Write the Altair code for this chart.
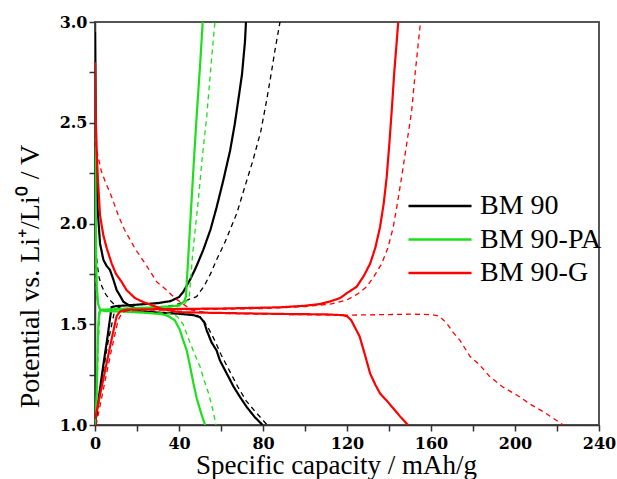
import altair as alt
import pandas as pd

samples = ["BM 90", "BM 90-PA", "BM 90-G"]
colors = ["#000000", "#1be01b", "#ff0000"]

# ---- BM 90 (black) ----
bm90_dis_solid_x = [0, 0.3, 0.6, 1.2, 2.4, 4, 5.5, 7.1, 8.8, 10.3, 12, 13.5, 16, 18.2, 22, 30, 40, 47, 50, 52, 53.2, 55.5, 57.9, 59.5, 63, 66, 69, 72.2, 76, 79.8]
bm90_dis_solid_y = [2.95, 2.6, 2.3, 2.08, 1.9, 1.82, 1.79, 1.77, 1.72, 1.67, 1.64, 1.612, 1.595, 1.584, 1.565, 1.558, 1.552, 1.545, 1.535, 1.51, 1.47, 1.41, 1.37, 1.32, 1.25, 1.19, 1.14, 1.09, 1.04, 1.0]
bm90_dis_dash_x = [0, 0.3, 1, 2, 3.2, 5, 7.1, 10, 14, 25, 40, 48, 51, 54, 57, 60, 64, 68, 72, 76, 82]
bm90_dis_dash_y = [2.05, 1.9, 1.8, 1.73, 1.69, 1.65, 1.62, 1.59, 1.57, 1.56, 1.553, 1.548, 1.53, 1.48, 1.42, 1.35, 1.27, 1.19, 1.12, 1.07, 1.0]
bm90_cha_solid_x = [0, 2, 4, 6, 7.9, 10, 20, 30, 36, 40, 42, 45.2, 48, 51.6, 55, 57.9, 61, 64.3, 66.5, 68.2, 70, 70.6, 71.4, 71.9]
bm90_cha_solid_y = [1.0, 1.15, 1.3, 1.44, 1.585, 1.59, 1.597, 1.605, 1.615, 1.635, 1.66, 1.72, 1.78, 1.87, 1.97, 2.08, 2.21, 2.36, 2.49, 2.61, 2.74, 2.81, 2.9, 3.0]
bm90_cha_dash_x = [0.3, 3, 6, 9.5, 20, 30, 38, 42, 45, 48.4, 52, 55, 57.9, 62, 67.5, 71, 75.4, 79, 81.7, 84, 85.7, 88.1]
bm90_cha_dash_y = [1.0, 1.2, 1.4, 1.575, 1.58, 1.585, 1.595, 1.61, 1.625, 1.637, 1.69, 1.75, 1.82, 1.91, 2.05, 2.17, 2.32, 2.46, 2.61, 2.75, 2.86, 3.0]

# ---- BM 90-PA (green) ----
pa_dis_solid_x = [0, 0.2, 0.4, 0.6, 0.9, 1.5, 2.5, 5, 15, 25, 32, 35, 38, 40.5, 42, 43.7, 45.3, 46.8, 48.5, 50.5, 52.4]
pa_dis_solid_y = [2.75, 2.3, 2.0, 1.8, 1.68, 1.6, 1.57, 1.565, 1.562, 1.556, 1.55, 1.54, 1.52, 1.47, 1.42, 1.37, 1.29, 1.21, 1.13, 1.06, 1.0]
pa_dis_dash_x = [0, 0.3, 0.8, 2, 5, 20, 35, 39, 42, 45.2, 47.5, 50, 52, 54, 56, 57.6]
pa_dis_dash_y = [2.0, 1.75, 1.63, 1.58, 1.565, 1.56, 1.555, 1.54, 1.5, 1.41, 1.35, 1.29, 1.22, 1.16, 1.08, 1.0]
pa_cha_solid_x = [0, 0.8, 1.2, 1.6, 2, 3, 10, 20, 30, 38, 41, 42.5, 43.3, 44.5, 46, 47.2, 48.4, 50, 51.3]
pa_cha_solid_y = [1.0, 1.15, 1.35, 1.5, 1.56, 1.572, 1.575, 1.58, 1.585, 1.59, 1.6, 1.615, 1.637, 1.85, 2.117, 2.33, 2.53, 2.78, 3.0]
pa_cha_dash_x = [0.2, 1, 1.6, 2.2, 3.5, 15, 30, 40, 43, 44.9, 46.5, 49.2, 51, 53.2, 55.2, 57.1]
pa_cha_dash_y = [1.0, 1.2, 1.4, 1.55, 1.568, 1.573, 1.58, 1.59, 1.605, 1.637, 1.85, 2.117, 2.32, 2.53, 2.78, 3.0]

# ---- BM 90-G (red) ----
g_dis_solid_x = [0, 0.3, 0.8, 1.5, 2.4, 4, 5.6, 8, 10, 12.7, 15, 19, 23, 27, 32, 40, 60, 90, 110, 118, 120, 122, 124, 126, 128.5, 131, 133.5, 135.7, 139, 142, 145.5, 149]
g_dis_solid_y = [2.8, 2.55, 2.35, 2.2, 2.04, 1.94, 1.877, 1.8, 1.75, 1.71, 1.67, 1.63, 1.61, 1.595, 1.575, 1.56, 1.556, 1.551, 1.549, 1.545, 1.54, 1.52, 1.48, 1.44, 1.35, 1.256, 1.2, 1.157, 1.12, 1.083, 1.04, 1.0]
g_dis_dash_x = [0, 0.5, 1.3, 3, 4.8, 8, 11.1, 14, 16.7, 19, 22, 24.6, 29.4, 34.1, 38, 42, 46, 55, 80, 118, 140, 150, 160, 164, 167.5, 170.5, 173.8, 178.6, 183, 188, 194, 200.8, 207, 213.5, 218, 223]
g_dis_dash_y = [2.45, 2.38, 2.34, 2.26, 2.21, 2.13, 2.04, 1.97, 1.92, 1.877, 1.83, 1.79, 1.71, 1.67, 1.63, 1.6, 1.57, 1.555, 1.55, 1.545, 1.548, 1.55, 1.548, 1.54, 1.505, 1.46, 1.42, 1.34, 1.3, 1.24, 1.19, 1.149, 1.105, 1.066, 1.035, 1.0]
g_cha_solid_x = [0, 2, 4, 6, 8, 10.3, 12, 15, 30, 60, 88, 100, 107, 111.9, 116.7, 120, 124.6, 128, 131, 133.5, 135.7, 137.5, 138.9, 140.2, 141.3, 142.5, 143.5, 144.4]
g_cha_solid_y = [1.03, 1.13, 1.23, 1.33, 1.43, 1.54, 1.565, 1.572, 1.575, 1.578, 1.584, 1.592, 1.6, 1.613, 1.63, 1.655, 1.686, 1.74, 1.8, 1.88, 1.98, 2.1, 2.23, 2.4, 2.56, 2.75, 2.88, 3.0]
g_cha_dash_x = [0.5, 2.5, 5, 8, 11, 13, 16, 40, 80, 100, 112, 119.8, 125, 129.4, 133, 136.5, 139.5, 142, 144, 146, 148.5, 150.8, 152.5, 153.8, 155]
g_cha_dash_y = [1.0, 1.1, 1.23, 1.38, 1.52, 1.56, 1.568, 1.572, 1.578, 1.588, 1.6, 1.62, 1.65, 1.686, 1.74, 1.8, 1.88, 1.98, 2.1, 2.23, 2.4, 2.56, 2.75, 2.88, 3.0]

curves = [
    ("BM 90", "1", "dis", bm90_dis_solid_x, bm90_dis_solid_y),
    ("BM 90", "2", "dis", bm90_dis_dash_x, bm90_dis_dash_y),
    ("BM 90", "1", "cha", bm90_cha_solid_x, bm90_cha_solid_y),
    ("BM 90", "2", "cha", bm90_cha_dash_x, bm90_cha_dash_y),
    ("BM 90-PA", "1", "dis", pa_dis_solid_x, pa_dis_solid_y),
    ("BM 90-PA", "2", "dis", pa_dis_dash_x, pa_dis_dash_y),
    ("BM 90-PA", "1", "cha", pa_cha_solid_x, pa_cha_solid_y),
    ("BM 90-PA", "2", "cha", pa_cha_dash_x, pa_cha_dash_y),
    ("BM 90-G", "1", "dis", g_dis_solid_x, g_dis_solid_y),
    ("BM 90-G", "2", "dis", g_dis_dash_x, g_dis_dash_y),
    ("BM 90-G", "1", "cha", g_cha_solid_x, g_cha_solid_y),
    ("BM 90-G", "2", "cha", g_cha_dash_x, g_cha_dash_y),
]

rows = []
for sample, cycle, part, xs, ys in curves:
    for i, (x, y) in enumerate(zip(xs, ys)):
        rows.append({"sample": sample, "cycle": cycle,
                     "curve": f"{sample}|{cycle}|{part}", "i": i,
                     "cap": x, "pot": y})
df = pd.DataFrame(rows)

x_ticks = list(range(0, 241, 20))
y_ticks = [1.0, 1.25, 1.5, 1.75, 2.0, 2.25, 2.5, 2.75, 3.0]

FONT = "Times New Roman, serif"
BFONT = "DejaVu Serif"

base = alt.Chart(df).mark_line(clip=True, strokeCap="butt").encode(
    x=alt.X("cap:Q", scale=alt.Scale(domain=[0, 240], nice=False, zero=False),
            axis=alt.Axis(values=x_ticks, title="Specific capacity / mAh/g",
                          labelExpr="datum.value % 40 == 0 ? datum.label : ''",
                          grid=False, tickSize=6, labelPadding=4,
                          labelFont=BFONT, labelFontSize=16, labelFontWeight="bold",
                          labelColor="#000", titleFont=FONT, titleFontSize=27,
                          titleFontWeight="normal", titleColor="#000",
                          titleX=241, titleY=48, titleBaseline="alphabetic",
                          domainColor="#333", domainWidth=1.5, tickColor="#333",
                          tickWidth=1.5, labelFlush=False, labelOverlap=False)),
    y=alt.Y("pot:Q", scale=alt.Scale(domain=[1.0, 3.0], nice=False, zero=False),
            axis=alt.Axis(values=y_ticks, title="Potential vs. Li\u207a/Li\u2070 / V",
                          labelExpr="(datum.value * 2) % 1 == 0 ? format(datum.value, '.1f') : ''",
                          grid=False, tickSize=6, labelPadding=2,
                          labelFont=BFONT, labelFontSize=16, labelFontWeight="bold",
                          labelColor="#000", titleFont=FONT, titleFontSize=28,
                          titleFontWeight="normal", titleColor="#000",
                          titleX=-57, titleY=254, titleAngle=-90,
                          titleBaseline="alphabetic", titleAlign="center",
                          domainColor="#333", domainWidth=1.5, tickColor="#333",
                          tickWidth=1.5, labelFlush=False, labelOverlap=False)),
    color=alt.Color("sample:N", scale=alt.Scale(domain=samples, range=colors),
                    legend=alt.Legend(orient="none", legendX=331, legendY=170,
                                      title=None, symbolType="M-5.25,0H5.25",
                                      symbolSize=144, symbolStrokeWidth=2.5,
                                      labelFont=FONT, labelFontSize=28,
                                      labelColor="#000", labelOffset=26,
                                      rowPadding=5.5, padding=0)),
    strokeDash=alt.StrokeDash("cycle:N", scale=alt.Scale(domain=["1", "2"], range=[[1, 0], [5, 4]]), legend=None),
    strokeWidth=alt.StrokeWidth("cycle:N", scale=alt.Scale(domain=["1", "2"], range=[2.2, 1.3]), legend=None),
    detail="curve:N",
    order="i:Q",
)

layers = [base.transform_filter(alt.datum.sample == s) for s in samples]

chart = alt.layer(*layers).properties(
    width=504, height=403,
    autosize=alt.AutoSizeParams(type="none"),
    padding={"left": 95, "top": 22, "right": 18, "bottom": 54},
    background="#ffffff",
).configure_view(stroke="#555555", strokeWidth=2)

chart.save("out.html", embed_options={"renderer": "svg", "actions": False})
